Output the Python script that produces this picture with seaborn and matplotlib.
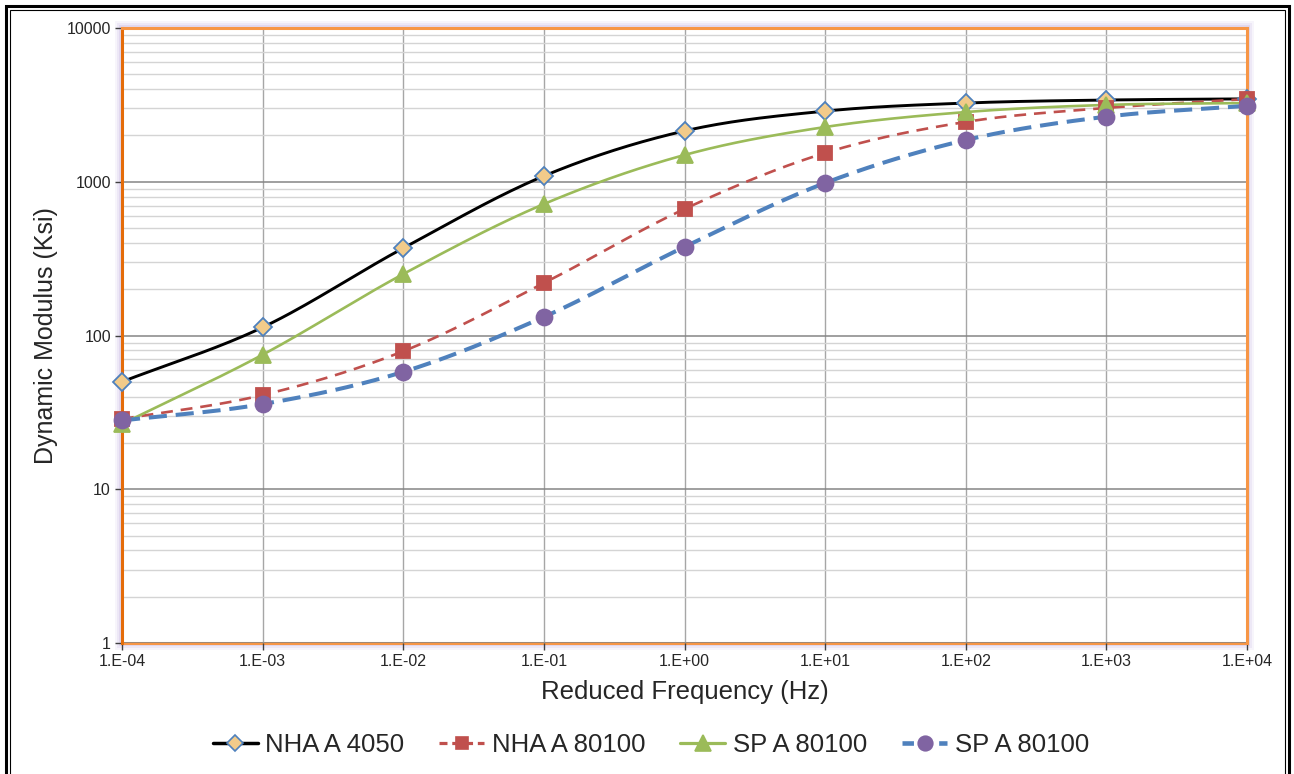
import numpy as np
import pandas as pd
import matplotlib
matplotlib.use("Agg")
import matplotlib.pyplot as plt
import seaborn as sns
from matplotlib.lines import Line2D
from matplotlib.patches import Rectangle
from matplotlib.ticker import LogLocator, FixedLocator, FixedFormatter, NullFormatter

# --- data --- #
freq = [1e-4, 1e-3, 1e-2, 1e-1, 1e0, 1e1, 1e2, 1e3, 1e4]
x_ticklabels = ["1.E-04", "1.E-03", "1.E-02", "1.E-01", "1.E+00",
                "1.E+01", "1.E+02", "1.E+03", "1.E+04"]
y_ticks = [1, 10, 100, 1000, 10000]

nha_4050 = [50, 113, 370, 1090, 2140, 2880, 3250, 3400, 3460]
nha_80100 = [28.6, 41, 79, 219, 665, 1540, 2450, 3020, 3450]
sp_80100_a = [26.6, 75, 251, 716, 1493, 2270, 2840, 3160, 3250]
sp_80100_b = [28, 35.8, 58, 132, 377, 982, 1868, 2650, 3120]

labels = ["NHA A 4050", "NHA A 80100", "SP A 80100", "SP A 80100"]

sns.set_style("white")
plt.rcParams['font.family'] = ['Liberation Sans', 'DejaVu Sans']


def smooth(xs, ys, n=30):
    # Excel-style smoothed line: Bezier through the points in log-log space
    P = np.column_stack([np.log10(xs), np.log10(ys)])
    P = np.vstack([2 * P[0] - P[1], P, 2 * P[-1] - P[-2]])
    t = np.linspace(0, 1, n, endpoint=False)[:, None]
    out = []
    for i in range(1, len(P) - 2):
        p0, p1, p2, p3 = P[i - 1], P[i], P[i + 1], P[i + 2]
        c1 = p1 + (p2 - p0) / 6
        c2 = p2 - (p3 - p1) / 6
        seg = ((1 - t) ** 3 * p1 + 3 * (1 - t) ** 2 * t * c1
               + 3 * (1 - t) * t ** 2 * c2 + t ** 3 * p2)
        out.append(seg)
    out.append(P[-2][None, :])
    out = np.vstack(out)
    return pd.DataFrame({'x': 10 ** out[:, 0], 'y': 10 ** out[:, 1]})


styles = [
    # series, line colour, line width, dashes, marker, face, edge, size
    (nha_4050, 'black', 2.1, None, 'D', '#F2CB8A', '#4F81BD', 9.5),
    (nha_80100, '#C0504D', 1.9, (4.5, 3), 's', '#C0504D', '#C0504D', 9.5),
    (sp_80100_a, '#9BBB59', 1.9, None, '^', '#9BBB59', '#9BBB59', 12),
    (sp_80100_b, '#4F81BD', 2.9, (4.5, 2.2), 'o', '#8064A2', '#8064A2', 11.5),
]

fig = plt.figure(figsize=(12.94, 7.74), dpi=100)
ax = fig.add_axes([122 / 1294, 1 - 643 / 774, 1125 / 1294, 615 / 774])
ax.set_zorder(3)
ax.set_facecolor('white')

# outer double frame of the chart (bottom edge runs off the picture)
fig.patches.append(Rectangle((6 / 1294, -10 / 774), 1283 / 1294, 778 / 774,
                             transform=fig.transFigure, fill=False,
                             edgecolor='black', lw=2.2, zorder=0))
fig.patches.append(Rectangle((10 / 1294, -10 / 774), 1275 / 1294, 774 / 774,
                             transform=fig.transFigure, fill=False,
                             edgecolor='black', lw=0.8, zorder=0))
# purple glow round the plot area
for k, a in [(7, 0.10), (5, 0.15), (3, 0.22)]:
    fig.patches.append(Rectangle(((122 - k) / 1294, (131 - k) / 774),
                                 (1125 + 2 * k) / 1294, (615 + 2 * k) / 774,
                                 transform=fig.transFigure, facecolor='#B9A3DA',
                                 edgecolor='none', alpha=a, zorder=0))

handles = []
for (vals, col, lw, dashes, mk, fc, ec, ms), lab in zip(styles, labels):
    curve = smooth(freq, vals)
    sns.lineplot(data=curve, x='x', y='y', ax=ax, color=col, lw=lw,
                 estimator=None, sort=False, zorder=3)
    if dashes is not None:
        ax.lines[-1].set_dashes(dashes)
    ax.plot(freq, vals, linestyle='none', marker=mk, markersize=ms,
            markerfacecolor=fc, markeredgecolor=ec, markeredgewidth=1.3,
            zorder=4, clip_on=False)
    h = Line2D([], [], color=col, lw=lw + 0.4, marker=mk, markersize=ms - 1,
               markerfacecolor=fc, markeredgecolor=ec, markeredgewidth=1.2)
    if dashes is not None:
        h.set_dashes((2.5, 1.5))
    handles.append(h)

ax.set_xscale('log')
ax.set_yscale('log')
ax.set_xlim(1e-4, 1e4)
ax.set_ylim(1, 10000)

ax.xaxis.set_major_locator(FixedLocator(freq))
ax.xaxis.set_major_formatter(FixedFormatter(x_ticklabels))
ax.xaxis.set_minor_locator(FixedLocator([]))
ax.yaxis.set_major_locator(FixedLocator(y_ticks))
ax.yaxis.set_major_formatter(FixedFormatter([str(v) for v in y_ticks]))
ax.yaxis.set_minor_locator(LogLocator(base=10, subs=np.arange(2, 10)))
ax.yaxis.set_minor_formatter(NullFormatter())

ax.grid(True, which='major', axis='y', color='#858585', lw=1.1, zorder=0)
ax.grid(True, which='minor', axis='y', color='#D4D4D4', lw=1.0, zorder=0)
ax.grid(True, which='major', axis='x', color='#A6A6A6', lw=1.0, zorder=0)
ax.set_axisbelow(True)

ax.tick_params(axis='both', which='major', direction='out', length=5,
               width=1, color='#404040', labelsize=11.5, pad=3,
               bottom=True, left=True)
ax.tick_params(axis='y', which='minor', length=0)

for side, sp in ax.spines.items():
    sp.set_visible(True)
    sp.set_color('#F79646')
    sp.set_linewidth(2.2)
ax.spines['left'].set_color('#E46C0A')
ax.spines['bottom'].set_zorder(0.5)

ax.set_xlabel('Reduced Frequency (Hz)', fontsize=18.5, labelpad=8)
ax.set_ylabel('Dynamic Modulus (Ksi)', fontsize=18)
ax.yaxis.set_label_coords(-0.057, 0.5)

fig.legend(handles, labels, loc='center', bbox_to_anchor=(0.503, 1 - 745 / 774),
           ncol=4, frameon=False, fontsize=18.5, handlelength=1.75,
           handletextpad=0.3, columnspacing=1.36)

fig.savefig('out.png', dpi=100)
